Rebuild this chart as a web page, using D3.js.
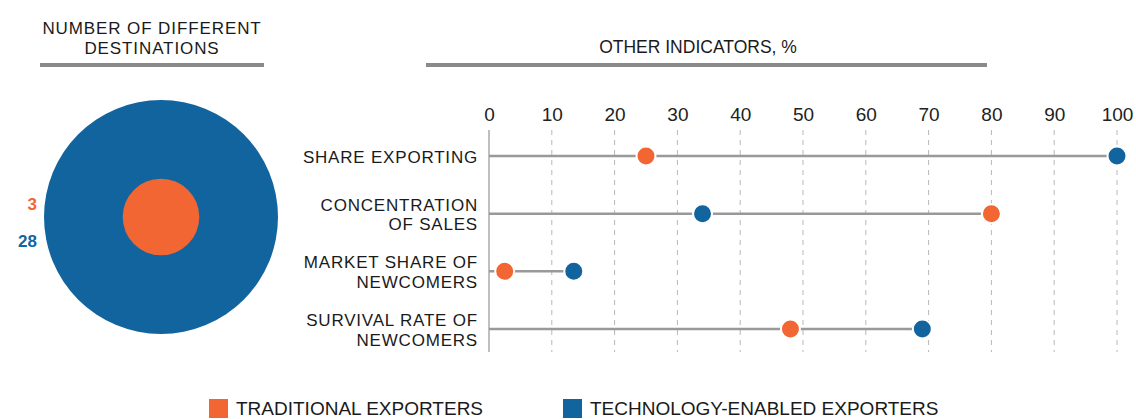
<!DOCTYPE html>
<html>
<head>
<meta charset="utf-8">
<script src="https://cdn.jsdelivr.net/npm/d3@7"></script>
<style>
  html, body { margin: 0; padding: 0; background: #fff; }
  svg { display: block; font-family: "Liberation Sans", Arial, sans-serif; }
</style>
</head>
<body>
<svg id="chart" width="1136" height="419"></svg>
<script>
// Destinations per exporter group
const groups = ["TRADITIONAL EXPORTERS", "TECHNOLOGY-ENABLED EXPORTERS"];
const destinations = [3, 28];

// Indicator rows (percent)
const indicators = [
  ["SHARE EXPORTING"],
  ["CONCENTRATION", "OF SALES"],
  ["MARKET SHARE OF", "NEWCOMERS"],
  ["SURVIVAL RATE OF", "NEWCOMERS"]
];
const traditional = [25, 80, 2.5, 48];
const techEnabled = [100, 34, 13.5, 69];
const xTicks = [0, 10, 20, 30, 40, 50, 60, 70, 80, 90, 100];

const colors = ["#F26634", "#12649E"];
const svg = d3.select("#chart");

// ---- Section headers ----
function header(lines, cx, x0, x1, size, spacing) {
  lines.forEach((l, i) => {
    svg.append("text").attr("text-anchor", "middle")
      .attr("font-size", size).attr("letter-spacing", spacing).attr("fill", "#1a1a1a")
      .attr("x", cx).attr("y", lines.length === 1 ? 53 : 34 + i * 19.5).text(l);
  });
  svg.append("rect").attr("x", x0).attr("y", 63).attr("width", x1 - x0).attr("height", 4).attr("fill", "#8a8a8a");
}
header(["NUMBER OF DIFFERENT", "DESTINATIONS"], 152, 40, 264, 17, 0.9);
header(["OTHER INDICATORS, %"], 698, 426, 987, 17.5, 0);

// ---- Nested destination circles (area-proportional) ----
const rScale = d3.scaleSqrt().domain([0, d3.max(destinations)]).range([0, 117]);
const cx = 161, cy = 217;
const order = d3.range(destinations.length).sort((a, b) => destinations[b] - destinations[a]);
svg.selectAll("circle.dest").data(order).join("circle")
  .attr("class", "dest")
  .attr("cx", cx).attr("cy", cy)
  .attr("r", i => rScale(destinations[i]))
  .attr("fill", i => colors[i]);
svg.selectAll("text.destlbl").data(destinations).join("text")
  .attr("class", "destlbl")
  .attr("x", 37).attr("y", (d, i) => 210 + i * 37)
  .attr("text-anchor", "end")
  .attr("font-size", 17).attr("font-weight", "bold")
  .attr("fill", (d, i) => colors[i])
  .text(d => d);

// ---- Dumbbell chart ----
const x = d3.scaleLinear().domain([0, 100]).range([489, 1117]);
const y = d3.scalePoint().domain(d3.range(indicators.length)).range([156, 329]);

const axis = svg.append("g").attr("transform", "translate(0,121)")
  .call(d3.axisTop(x).tickValues(xTicks).tickSize(0).tickPadding(0));
axis.select(".domain").remove();
axis.selectAll("text").attr("font-size", 19).attr("fill", "#222")
  .attr("font-family", "'Liberation Sans', Arial, sans-serif");

// grid
svg.selectAll("line.grid").data(xTicks).join("line")
  .attr("class", "grid")
  .attr("x1", d => x(d)).attr("x2", d => x(d))
  .attr("y1", 130).attr("y2", 352)
  .attr("stroke", d => d === 0 ? "#aaa" : "#b8b8b8")
  .attr("stroke-width", d => d === 0 ? 1.5 : 1)
  .attr("stroke-dasharray", d => d === 0 ? null : "5,5");

// row labels
indicators.forEach((lines, i) => {
  lines.forEach((l, j) => {
    const off = lines.length === 1 ? 7 : (j === 0 ? -3 : 16.5);
    svg.append("text").attr("text-anchor", "end")
      .attr("font-size", 17).attr("letter-spacing", 0.8).attr("fill", "#1a1a1a")
      .attr("x", 478).attr("y", y(i) + off).text(l);
  });
});

// connectors from zero to the larger value
svg.selectAll("line.conn").data(indicators.map((d, i) => i)).join("line")
  .attr("class", "conn")
  .attr("x1", x(0))
  .attr("x2", i => x(Math.max(traditional[i], techEnabled[i])))
  .attr("y1", i => y(i)).attr("y2", i => y(i))
  .attr("stroke", "#999").attr("stroke-width", 2.5);

[traditional, techEnabled].forEach((vals, s) => {
  svg.selectAll("circle.s" + s).data(vals).join("circle")
    .attr("class", "s" + s)
    .attr("cx", d => x(d)).attr("cy", (d, i) => y(i))
    .attr("r", 9.5)
    .attr("fill", colors[s])
    .attr("stroke", "#fff").attr("stroke-width", 2);
});

// ---- Legend ----
const legX = [209, 563];
groups.forEach((g, i) => {
  svg.append("rect").attr("x", legX[i]).attr("y", 399).attr("width", 19).attr("height", 19).attr("fill", colors[i]);
  svg.append("text").attr("x", legX[i] + 27).attr("y", 415)
    .attr("font-size", 19).attr("fill", "#1a1a1a").text(g);
});
</script>
</body>
</html>
